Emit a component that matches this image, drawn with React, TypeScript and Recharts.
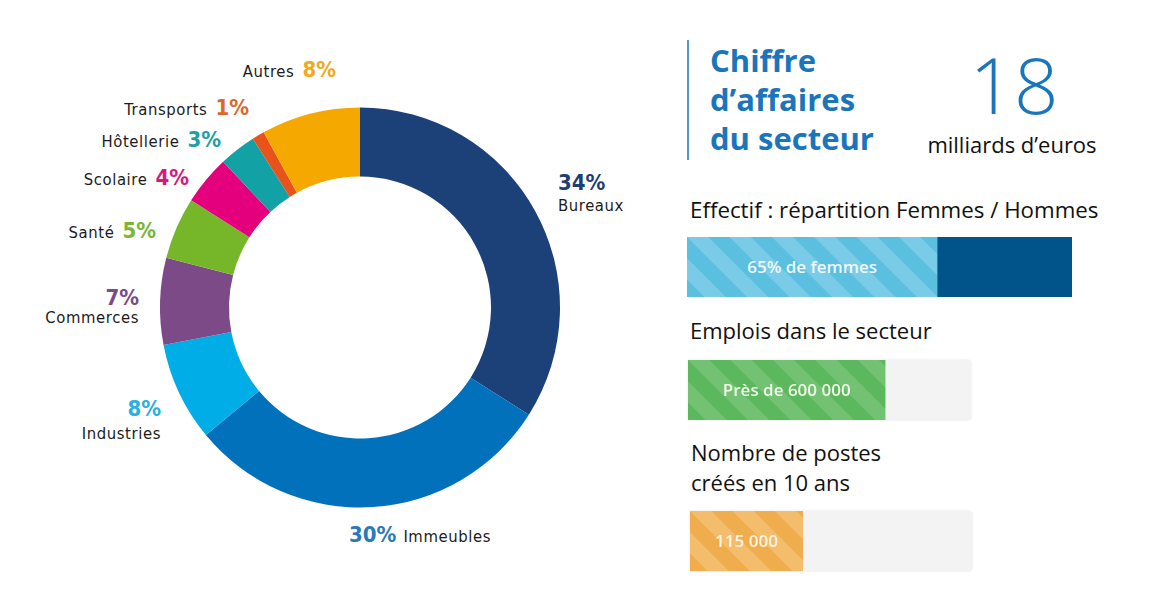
import React from 'react';
import { PieChart, Pie, Cell, BarChart, Bar, XAxis, YAxis, LabelList } from 'recharts';

// Répartition du chiffre d'affaires par type de bâtiment (%)
const sectors = ['Bureaux', 'Immeubles', 'Industries', 'Commerces', 'Santé', 'Scolaire', 'Hôtellerie', 'Transports', 'Autres'];
const shares = [34, 30, 8, 7, 5, 4, 3, 1, 8];
const sliceColors = ['#1c4179', '#0071ba', '#00ade6', '#7c4a86', '#76b72a', '#e4007c', '#12a2a5', '#e8531b', '#f5a900'];
const pctColors = ['#1e3f73', '#2b79b5', '#2aafe0', '#7b4c85', '#79b634', '#d31a7f', '#1e9fa2', '#dc682b', '#f0a922'];

// Chiffres clés
const turnoverBillions = 18;
const womenShare = 65;
const jobs = 600000;
const jobsScaleMax = 860000;
const createdPosts = 115000;
const postsScaleMax = 287000;

const pieData = sectors.map((name, i) => ({ name, value: shares[i] }));

// Placement of each sector label around the ring
type LabelSpot = { kind: 'inlineEnd' | 'inlineStart' | 'stackEnd' | 'stackStart'; x: number; y: number; y2?: number };
const labelSpots: LabelSpot[] = [
  { kind: 'stackStart', x: 558, y: 190, y2: 211 },
  { kind: 'inlineStart', x: 349, y: 542 },
  { kind: 'stackEnd', x: 161, y: 416, y2: 439 },
  { kind: 'stackEnd', x: 139, y: 305, y2: 323 },
  { kind: 'inlineEnd', x: 156, y: 238 },
  { kind: 'inlineEnd', x: 189, y: 185 },
  { kind: 'inlineEnd', x: 221, y: 147 },
  { kind: 'inlineEnd', x: 249, y: 115 },
  { kind: 'inlineEnd', x: 336, y: 77 },
];

const NAME_FONT = '"DejaVu Sans Condensed", "DejaVu Sans", sans-serif';
const UI_FONT = '"Open Sans", "Noto Sans", sans-serif';

const renderSectorLabel = (props: any) => {
  const i = props.index as number;
  const spot = labelSpots[i];
  const name = sectors[i];
  const pct = `${shares[i]}%`;
  const nameStyle = { fontFamily: NAME_FONT, fontSize: 16.5, fill: '#1b1b1b', letterSpacing: 0.6 };
  const pctStyle = { fontFamily: NAME_FONT, fontSize: 22, fontWeight: 700, fill: pctColors[i] };
  if (spot.kind === 'inlineEnd') {
    return (
      <text key={`l${i}`} x={spot.x} y={spot.y} textAnchor="end">
        <tspan style={nameStyle}>{name}</tspan>
        <tspan dx={8} style={pctStyle}>{pct}</tspan>
      </text>
    );
  }
  if (spot.kind === 'inlineStart') {
    return (
      <text key={`l${i}`} x={spot.x} y={spot.y} textAnchor="start">
        <tspan style={pctStyle}>{pct}</tspan>
        <tspan dx={7} style={nameStyle}>{name}</tspan>
      </text>
    );
  }
  const anchor = spot.kind === 'stackEnd' ? 'end' : 'start';
  return (
    <g key={`l${i}`}>
      <text x={spot.x} y={spot.y} textAnchor={anchor} style={pctStyle}>{pct}</text>
      <text x={spot.x} y={spot.y2} textAnchor={anchor} style={nameStyle}>{name}</text>
    </g>
  );
};

const fmtThousands = (v: number) => String(v).replace(/\B(?=(\d{3})+(?!\d))/g, ' ');

const stripes = (id: string, base: string, light: string) => (
  <pattern id={id} width={30} height={30} patternUnits="userSpaceOnUse" patternTransform="rotate(-45)">
    <rect width={30} height={30} fill={base} />
    <rect width={15} height={30} fill={light} />
  </pattern>
);

const centerText = (fmt: (v: number) => string, color: string) => (p: any) => {
  const { x, y, width, height, value } = p;
  return (
    <text
      x={Number(x) + Number(width) / 2}
      y={Number(y) + Number(height) / 2 + 6}
      textAnchor="middle"
      style={{ fontFamily: UI_FONT, fontSize: 17, fontWeight: 600, fill: color }}
    >
      {fmt(Number(value))}
    </text>
  );
};

const headStyle = { fontFamily: UI_FONT, fontSize: 22, fill: '#111' } as const;
const noMargin = { top: 0, right: 0, bottom: 0, left: 0 };

export default function App() {
  return (
    <div style={{ position: 'absolute', left: 0, top: 0, width: 1160, height: 598, background: '#fff', overflow: 'hidden' }}>
      <div style={{ position: 'absolute', left: 0, top: 0 }}>
        <PieChart width={720} height={598} margin={noMargin}>
          <Pie
            data={pieData}
            dataKey="value"
            nameKey="name"
            cx={360}
            cy={307.5}
            innerRadius={131}
            outerRadius={200}
            startAngle={90}
            endAngle={-270}
            stroke="none"
            label={renderSectorLabel}
            labelLine={false}
            isAnimationActive={false}
          >
            {pieData.map((d, i) => (
              <Cell key={d.name} fill={sliceColors[i]} />
            ))}
          </Pie>
        </PieChart>
      </div>

      <svg width={1160} height={598} style={{ position: 'absolute', left: 0, top: 0, pointerEvents: 'none' }}>
        <line x1={688} y1={40} x2={688} y2={160} stroke="#1a75bb" strokeWidth={1.5} />
        <g style={{ fontFamily: UI_FONT, fontSize: 31, fontWeight: 700, fill: '#1a75bb' }}>
          <text x={710} y={72}>Chiffre</text>
          <text x={710} y={111}>d’affaires</text>
          <text x={710} y={150}>du secteur</text>
        </g>
        <text x={1014} y={114} textAnchor="middle" style={{ fontFamily: UI_FONT, fontSize: 78, fontWeight: 300, fill: '#1a75bb' }}>
          {turnoverBillions}
        </text>
        <text x={1012} y={153} textAnchor="middle" style={{ ...headStyle }}>milliards d’euros</text>
        <text x={690} y={218} style={{ ...headStyle, fontSize: 22.3 }}>Effectif : répartition Femmes / Hommes</text>
        <text x={690} y={339} style={headStyle}>Emplois dans le secteur</text>
        <text x={691} y={461} style={headStyle}>Nombre de postes</text>
        <text x={691} y={491} style={headStyle}>créés en 10 ans</text>
      </svg>

      <div style={{ position: 'absolute', left: 687, top: 237 }}>
        <BarChart width={385} height={60} layout="vertical" data={[{ k: 'effectif', femmes: womenShare, hommes: 100 - womenShare }]}
          margin={noMargin} barCategoryGap={0}>
          <defs>{stripes('stripeBlue', '#5bbfe0', '#79cbe7')}</defs>
          <XAxis type="number" hide domain={[0, 100]} />
          <YAxis type="category" dataKey="k" hide />
          <Bar dataKey="femmes" stackId="s" fill="url(#stripeBlue)" isAnimationActive={false}>
            <LabelList dataKey="femmes" content={centerText((v) => `${v}% de femmes`, '#eef8fc')} />
          </Bar>
          <Bar dataKey="hommes" stackId="s" fill="#00548a" isAnimationActive={false} />
        </BarChart>
      </div>

      <div style={{ position: 'absolute', left: 688, top: 360, filter: 'drop-shadow(0 0 1px rgba(0,0,0,0.12))' }}>
        <BarChart width={283} height={60} layout="vertical" data={[{ k: 'emplois', v: jobs }]}
          margin={noMargin} barCategoryGap={0}>
          <defs>{stripes('stripeGreen', '#5cb85c', '#73c273')}</defs>
          <XAxis type="number" hide domain={[0, jobsScaleMax]} />
          <YAxis type="category" dataKey="k" hide />
          <Bar dataKey="v" fill="url(#stripeGreen)" background={{ fill: '#f3f3f3', radius: 4 } as any} isAnimationActive={false}>
            <LabelList dataKey="v" content={centerText((v) => `Près de ${fmtThousands(v)}`, '#f1f9ea')} />
          </Bar>
        </BarChart>
      </div>

      <div style={{ position: 'absolute', left: 690, top: 511, filter: 'drop-shadow(0 0 1px rgba(0,0,0,0.12))' }}>
        <BarChart width={282} height={60} layout="vertical" data={[{ k: 'postes', v: createdPosts }]}
          margin={noMargin} barCategoryGap={0}>
          <defs>{stripes('stripeOrange', '#f0ad4e', '#f3bd6c')}</defs>
          <XAxis type="number" hide domain={[0, postsScaleMax]} />
          <YAxis type="category" dataKey="k" hide />
          <Bar dataKey="v" fill="url(#stripeOrange)" background={{ fill: '#f3f3f3', radius: 4 } as any} isAnimationActive={false}>
            <LabelList dataKey="v" content={centerText((v) => fmtThousands(v), '#fdf4e4')} />
          </Bar>
        </BarChart>
      </div>
    </div>
  );
}
